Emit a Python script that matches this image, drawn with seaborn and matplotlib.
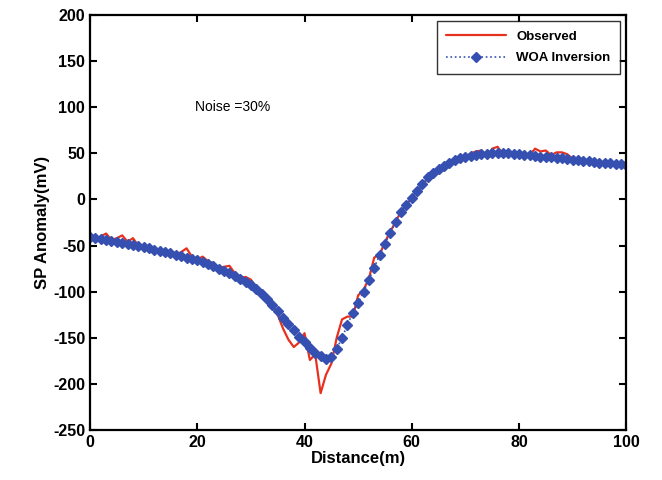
import numpy as np
import pandas as pd
import matplotlib
matplotlib.use("Agg")
import matplotlib.pyplot as plt
import seaborn as sns

# distance along the profile (m)
distance = list(range(0, 101))

# observed SP anomaly (mV), noisy
observed = [
    -41, -43, -40, -37, -44, -42, -39, -46, -42, -50,
    -51, -53, -55, -56, -57, -58, -60, -57, -53, -62,
    -65, -62, -67, -69, -74, -73, -72, -80, -85, -84,
    -87, -96, -105, -110, -115, -125, -140, -152, -160, -155,
    -145, -174, -168, -210, -190, -178, -150, -130, -127, -127,
    -104, -98, -86, -63, -60, -46, -35, -24, -13, -6,
    2, 9, 16, 23, 28, 34, 37, 40, 43, 44,
    46, 50, 52, 53, 45, 55, 57, 49, 49, 48,
    49, 48, 48, 55, 52, 53, 48, 51, 51, 49,
    44, 43, 41, 42, 41, 40, 40, 39, 38, 39,
    37,
]

# WOA inversion result (mV)
woa = [
    -41, -42, -43, -44, -45, -46, -47, -48, -49, -50.5,
    -52, -53, -54.5, -56, -57, -58.5, -60, -61.5, -63, -64.5,
    -66, -68, -70, -72.5, -75, -77.5, -80, -83, -86, -89.5,
    -93, -97, -102, -107.5, -114, -121, -128, -135, -142, -149,
    -155, -161, -166, -170, -173, -171, -162, -150, -136, -123,
    -112, -100, -87, -74, -60, -48, -36, -24, -14, -6,
    1, 9, 17, 24, 29, 33, 36, 40, 43, 45,
    46.5, 47.5, 48.5, 49, 49.5, 50, 50, 50, 50, 49.5,
    49, 48.5, 48, 47, 46.5, 46, 45.5, 45, 44.5, 44,
    43, 42.5, 42, 41.5, 41, 40, 39.5, 39, 38.5, 38,
    37.5,
]

df = pd.DataFrame({"Distance": distance, "Observed": observed, "WOA": woa})

sns.set_style("white")
plt.rcParams["font.family"] = ["Liberation Sans", "DejaVu Sans"]
plt.rcParams["axes.unicode_minus"] = False
plt.rcParams["text.color"] = "black"
plt.rcParams["axes.labelcolor"] = "black"
plt.rcParams["xtick.color"] = "black"
plt.rcParams["ytick.color"] = "black"

fig = plt.figure(figsize=(6.62, 4.8), dpi=100)
ax = fig.add_axes([0.136, 0.104, 0.81, 0.865])

sns.lineplot(data=df, x="Distance", y="Observed", ax=ax, color="#E8301E",
             linewidth=1.6, label="Observed")
sns.lineplot(data=df, x="Distance", y="WOA", ax=ax, color="#3550B0",
             linewidth=1.2, linestyle=":", marker="D", markersize=5,
             markeredgewidth=1.0, markeredgecolor="#3550B0",
             label="WOA Inversion")

ax.set_xlim(0, 100)
ax.set_ylim(-250, 200)
ax.set_xticks(np.arange(0, 101, 20))
ax.set_yticks(np.arange(-250, 201, 50))
ax.tick_params(direction="in", length=5, width=1.5, labelsize=11.5,
               top=True, right=True, bottom=True, left=True)
for lab in ax.get_xticklabels() + ax.get_yticklabels():
    lab.set_fontweight("bold")
for sp in ax.spines.values():
    sp.set_linewidth(1.6)
    sp.set_color("black")

ax.set_xlabel("Distance(m)", fontsize=12, fontweight="bold", labelpad=1)
ax.set_ylabel("SP Anomaly(mV)", fontsize=12, fontweight="bold", labelpad=2)

ax.text(19.5, 100, "Noise =30%", fontsize=10, va="center", ha="left")

leg = ax.legend(loc="upper right", fontsize=9.5, frameon=True, fancybox=False,
                edgecolor="black", borderaxespad=0.5, handlelength=4.5,
                borderpad=0.7, labelspacing=0.7)
leg.get_frame().set_linewidth(1.0)
for t in leg.get_texts():
    t.set_fontweight("bold")

fig.savefig("out.png", dpi=100)
